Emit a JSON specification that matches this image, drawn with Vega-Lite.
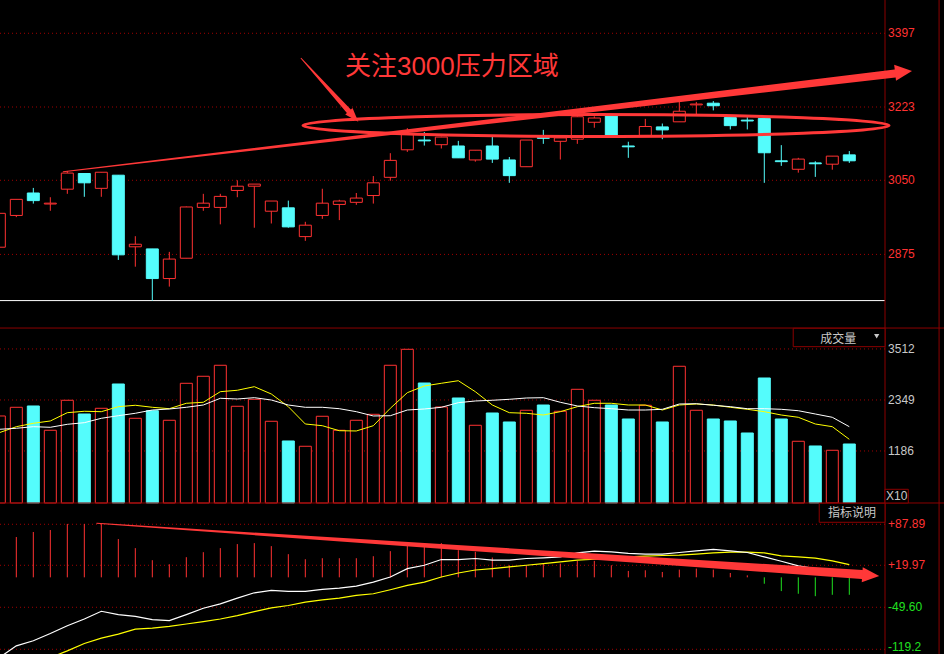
{
"$schema":"https://vega.github.io/schema/vega-lite/v6.json",
"width":944,"height":654,
"autosize":{"type":"none"},
"padding":0,
"background":"#000000",
"config":{"view":{"stroke":null}},
"datasets":{"k":[
{"i":0,"o":2892,"h":2972,"l":2892,"c":2972,"v":1984,"v5":1603,"v10":1680,"dif":-133,"dea":-163,"m":58},
{"i":1,"o":2967,"h":3005,"l":2963,"c":3005,"v":2182,"v5":1740,"v10":1703,"dif":-113.5,"dea":-147,"m":66.8},
{"i":2,"o":3020,"h":3032,"l":2995,"c":3002,"v":2212,"v5":1817,"v10":1740,"dif":-105.1,"dea":-142.6,"m":75.1},
{"i":3,"o":2994,"h":3010,"l":2978,"c":2996,"v":1658,"v5":1870,"v10":1726,"dif":-93,"dea":-133,"m":78.4},
{"i":4,"o":3029,"h":3072,"l":3018,"c":3067,"v":2342,"v5":2059,"v10":1794,"dif":-80.1,"dea":-121.8,"m":88.5},
{"i":5,"o":3066,"h":3067,"l":3011,"c":3044,"v":2029,"v5":2091,"v10":1831,"dif":-69,"dea":-109.6,"m":88.5},
{"i":6,"o":3031,"h":3069,"l":3011,"c":3069,"v":2159,"v5":2082,"v10":1931,"dif":-56.2,"dea":-100.7,"m":88.5},
{"i":7,"o":3062,"h":3062,"l":2862,"c":2874,"v":2713,"v5":2196,"v10":1990,"dif":-61.8,"dea":-94,"m":63.4},
{"i":8,"o":2893,"h":2918,"l":2846,"c":2899,"v":1931,"v5":2228,"v10":2045,"dif":-64.6,"dea":-85.7,"m":48.4},
{"i":9,"o":2888,"h":2888,"l":2766,"c":2818,"v":2104,"v5":2182,"v10":2120,"dif":-70.1,"dea":-84,"m":28.4},
{"i":10,"o":2818,"h":2881,"l":2799,"c":2864,"v":1886,"v5":2150,"v10":2143,"dif":-71.8,"dea":-81.2,"m":21.7},
{"i":11,"o":2866,"h":2988,"l":2866,"c":2987,"v":2729,"v5":2273,"v10":2182,"dif":-61.8,"dea":-77.3,"m":33.4},
{"i":12,"o":2986,"h":3018,"l":2978,"c":2996,"v":2889,"v5":2296,"v10":2234,"dif":-51.2,"dea":-73.4,"m":41.7},
{"i":13,"o":2986,"h":3018,"l":2946,"c":3012,"v":3140,"v5":2538,"v10":2387,"dif":-43.9,"dea":-69,"m":48.4},
{"i":14,"o":3026,"h":3050,"l":3010,"c":3036,"v":2205,"v5":2570,"v10":2371,"dif":-34.5,"dea":-63.4,"m":55.1},
{"i":15,"o":3036,"h":3041,"l":2938,"c":3041,"v":2364,"v5":2652,"v10":2401,"dif":-25.6,"dea":-56.7,"m":56.7},
{"i":16,"o":2977,"h":3001,"l":2948,"c":3001,"v":1863,"v5":2485,"v10":2348,"dif":-21.7,"dea":-50.6,"m":51.7},
{"i":17,"o":2985,"h":3002,"l":2938,"c":2940,"v":1414,"v5":2196,"v10":2234,"dif":-23.4,"dea":-46.7,"m":38.4},
{"i":18,"o":2917,"h":2952,"l":2907,"c":2944,"v":1293,"v5":1801,"v10":2182,"dif":-23.4,"dea":-41.2,"m":30},
{"i":19,"o":2967,"h":3030,"l":2959,"c":2996,"v":1977,"v5":1762,"v10":2182,"dif":-20,"dea":-37.3,"m":31.7},
{"i":20,"o":2993,"h":3004,"l":2956,"c":3001,"v":1658,"v5":1648,"v10":2150,"dif":-17.8,"dea":-34.5,"m":31.7},
{"i":21,"o":2998,"h":3020,"l":2992,"c":3008,"v":1886,"v5":1642,"v10":2082,"dif":-14.5,"dea":-30,"m":31.7},
{"i":22,"o":3014,"h":3060,"l":2995,"c":3044,"v":2022,"v5":1762,"v10":1984,"dif":-7.8,"dea":-27.2,"m":35},
{"i":23,"o":3057,"h":3114,"l":3049,"c":3097,"v":3140,"v5":2159,"v10":1990,"dif":0.5,"dea":-20.5,"m":43.4},
{"i":24,"o":3122,"h":3173,"l":3117,"c":3158,"v":3504,"v5":2515,"v10":2120,"dif":14.5,"dea":-13.4,"m":53.4},
{"i":25,"o":3145,"h":3164,"l":3132,"c":3143,"v":2736,"v5":2668,"v10":2143,"dif":20,"dea":-7.8,"m":56.7},
{"i":26,"o":3134,"h":3153,"l":3125,"c":3152,"v":2189,"v5":2729,"v10":2182,"dif":29.5,"dea":0.5,"m":56.7},
{"i":27,"o":3131,"h":3143,"l":3103,"c":3103,"v":2394,"v5":2788,"v10":2287,"dif":29.5,"dea":7.2,"m":45},
{"i":28,"o":3098,"h":3121,"l":3094,"c":3121,"v":1772,"v5":2538,"v10":2326,"dif":31.2,"dea":12.2,"m":42.3},
{"i":29,"o":3131,"h":3153,"l":3091,"c":3100,"v":2052,"v5":2234,"v10":2342,"dif":28.4,"dea":14.5,"m":32.8},
{"i":30,"o":3098,"h":3105,"l":3044,"c":3061,"v":1847,"v5":2059,"v10":2364,"dif":28.4,"dea":17.2,"m":20},
{"i":31,"o":3082,"h":3145,"l":3082,"c":3145,"v":2114,"v5":2045,"v10":2394,"dif":31.2,"dea":20,"m":20},
{"i":32,"o":3151,"h":3169,"l":3136,"c":3149,"v":2234,"v5":2006,"v10":2401,"dif":32.3,"dea":22.8,"m":22.8},
{"i":33,"o":3142,"h":3150,"l":3099,"c":3150,"v":2091,"v5":2082,"v10":2296,"dif":33.9,"dea":25.6,"m":22.8},
{"i":34,"o":3147,"h":3202,"l":3136,"c":3200,"v":2592,"v5":2196,"v10":2212,"dif":40.6,"dea":28.4,"m":27.3},
{"i":35,"o":3187,"h":3201,"l":3174,"c":3197,"v":2342,"v5":2273,"v10":2173,"dif":43.4,"dea":30,"m":27.3},
{"i":36,"o":3202,"h":3203,"l":3156,"c":3156,"v":2234,"v5":2273,"v10":2150,"dif":42.3,"dea":31.7,"m":20},
{"i":37,"o":3131,"h":3141,"l":3103,"c":3129,"v":1915,"v5":2234,"v10":2120,"dif":39.6,"dea":33.9,"m":10.6},
{"i":38,"o":3156,"h":3195,"l":3156,"c":3177,"v":2228,"v5":2234,"v10":2120,"dif":38.4,"dea":35,"m":11.7},
{"i":39,"o":3176,"h":3184,"l":3147,"c":3169,"v":1847,"v5":2120,"v10":2136,"dif":38.4,"dea":36.2,"m":8.9},
{"i":40,"o":3188,"h":3238,"l":3188,"c":3213,"v":3117,"v5":2234,"v10":2257,"dif":41.2,"dea":36.7,"m":12.8},
{"i":41,"o":3228,"h":3235,"l":3204,"c":3230,"v":2114,"v5":2257,"v10":2264,"dif":43.9,"dea":38.4,"m":14.5},
{"i":42,"o":3232,"h":3237,"l":3215,"c":3226,"v":1915,"v5":2234,"v10":2228,"dif":46.2,"dea":40.6,"m":12.8},
{"i":43,"o":3198,"h":3198,"l":3170,"c":3179,"v":1870,"v5":2182,"v10":2196,"dif":43.9,"dea":41.7,"m":7.2},
{"i":44,"o":3192,"h":3199,"l":3170,"c":3190,"v":1596,"v5":2136,"v10":2150,"dif":41.2,"dea":41.7,"m":3.3},
{"i":45,"o":3196,"h":3197,"l":3044,"c":3115,"v":2850,"v5":2082,"v10":2150,"dif":33.9,"dea":40.6,"m":-10.6},
{"i":46,"o":3096,"h":3133,"l":3084,"c":3094,"v":1915,"v5":2006,"v10":2136,"dif":26.7,"dea":35.6,"m":-22.8},
{"i":47,"o":3076,"h":3103,"l":3068,"c":3100,"v":1407,"v5":1954,"v10":2104,"dif":18.9,"dea":33.9,"m":-27.2},
{"i":48,"o":3091,"h":3095,"l":3058,"c":3089,"v":1300,"v5":1801,"v10":2029,"dif":14.5,"dea":31.7,"m":-31.2},
{"i":49,"o":3088,"h":3107,"l":3075,"c":3107,"v":1202,"v5":1740,"v10":1954,"dif":10.5,"dea":27.3,"m":-28.9},
{"i":50,"o":3110,"h":3119,"l":3091,"c":3096,"v":1345,"v5":1452,"v10":1740,"dif":6.7,"dea":21.2,"m":-28.9}
]},
"layer":[
{"layer":[
 {"data":{"values":[{"y":2875},{"y":3050},{"y":3223},{"y":3397}]},
  "mark":{"type":"rule","color":"#a00000","strokeDash":[1,3],"strokeWidth":1},
  "encoding":{"x":{"datum":0.04,"type":"quantitative","scale":{"domain":[0.04,55.57],"nice":false,"zero":false,"padding":0},"axis":null},"x2":{"datum":52.1},
   "y":{"field":"y","type":"quantitative","scale":{"domain":[1931.7,3475.6],"nice":false,"zero":false},"axis":null}}},
 {"data":{"values":[{"y":2875,"t":"2875"},{"y":3050,"t":"3050"},{"y":3223,"t":"3223"},{"y":3397,"t":"3397"}]},
  "mark":{"type":"text","align":"left","baseline":"middle","font":"Liberation Sans","fontSize":12,"color":"#ff3232"},
  "encoding":{"x":{"datum":52.28,"type":"quantitative","scale":{"domain":[0.04,55.57],"nice":false,"zero":false,"padding":0},"axis":null},
   "y":{"field":"y","type":"quantitative","scale":{"domain":[1931.7,3475.6],"nice":false,"zero":false},"axis":null},"text":{"field":"t"}}},
 {"data":{"values":[{"y":2766}]},
  "mark":{"type":"rule","color":"#ffffff","strokeWidth":1},
  "encoding":{"x":{"datum":0.04,"type":"quantitative","scale":{"domain":[0.04,55.57],"nice":false,"zero":false,"padding":0},"axis":null},"x2":{"datum":52.1},
   "y":{"field":"y","type":"quantitative","scale":{"domain":[1931.7,3475.6],"nice":false,"zero":false},"axis":null}}},
 {"data":{"values":[{"y":2701.2}]},
  "mark":{"type":"rule","color":"#8b0000","strokeWidth":1},
  "encoding":{"y":{"field":"y","type":"quantitative","scale":{"domain":[1931.7,3475.6],"nice":false,"zero":false},"axis":null}}},
 {"data":{"values":[{"xv":52.1},{"xv":55.28}]},
  "mark":{"type":"rule","color":"#8b0000","strokeWidth":1},
  "encoding":{"x":{"field":"xv","type":"quantitative","scale":{"domain":[0.04,55.57],"nice":false,"zero":false,"padding":0},"axis":null}}},
 {"data":{"name":"k"},
  "mark":{"type":"rule","clip":true,"strokeWidth":1},
  "encoding":{"x":{"field":"i","type":"quantitative","scale":{"domain":[0.04,55.57],"nice":false,"zero":false,"padding":0},"axis":null},
   "y":{"field":"l","type":"quantitative","scale":{"domain":[1931.7,3475.6],"nice":false,"zero":false},"axis":null},"y2":{"field":"h"},
   "color":{"condition":{"test":"datum.c >= datum.o","value":"#ff3232"},"value":"#54fcfc"}}},
 {"data":{"name":"k"},
  "mark":{"type":"bar","clip":true,"size":12,"orient":"vertical","strokeWidth":1},
  "encoding":{"x":{"field":"i","type":"quantitative","scale":{"domain":[0.04,55.57],"nice":false,"zero":false,"padding":0},"axis":null},
   "y":{"field":"o","type":"quantitative","scale":{"domain":[1931.7,3475.6],"nice":false,"zero":false},"axis":null},"y2":{"field":"c"},
   "fill":{"condition":{"test":"datum.c >= datum.o","value":"#000000"},"value":"#54fcfc"},
   "stroke":{"condition":{"test":"datum.c >= datum.o","value":"#ff3232"},"value":"#54fcfc"}}},
 {"data":{"values":[{"i":35.1,"p":3179.3}]},
  "mark":{"type":"point","shape":"M-1,0C-1,-0.0207,-0.5523,-0.0375,0,-0.0375C0.5523,-0.0375,1,-0.0207,1,0C1,0.0207,0.5523,0.0375,0,0.0375C-0.5523,0.0375,-1,0.0207,-1,0Z","size":343396,"filled":false,"color":"#ff3838","strokeWidth":3,"opacity":1},
  "encoding":{"x":{"field":"i","type":"quantitative","scale":{"domain":[0.04,55.57],"nice":false,"zero":false,"padding":0},"axis":null},
   "y":{"field":"p","type":"quantitative","scale":{"domain":[1931.7,3475.6],"nice":false,"zero":false},"axis":null}}},
 {"data":{"values":[{"a":"a1","i":17.75,"p":3338,"k":0},{"a":"a1","i":20.56,"p":3213,"k":0.6},{"a":"a2","i":3.76,"p":3070,"k":0},{"a":"a2","i":52.69,"p":3302,"k":1}]},
  "mark":{"type":"trail","color":"#ff3838"},
  "encoding":{"x":{"field":"i","type":"quantitative","scale":{"domain":[0.04,55.57],"nice":false,"zero":false,"padding":0},"axis":null},
   "y":{"field":"p","type":"quantitative","scale":{"domain":[1931.7,3475.6],"nice":false,"zero":false},"axis":null},
   "size":{"field":"k","type":"quantitative","scale":{"domain":[0,1],"range":[1,8]},"legend":null},
   "detail":{"field":"a"}}},
 {"data":{"values":[{"i":53.19,"p":3306}]},
  "mark":{"type":"point","shape":"M-1,-0.94L1,0L-1,0.94Z","size":289,"angle":-6.5,"filled":true,"color":"#ff3838","opacity":1,"strokeWidth":0},
  "encoding":{"x":{"field":"i","type":"quantitative","scale":{"domain":[0.04,55.57],"nice":false,"zero":false,"padding":0},"axis":null},
   "y":{"field":"p","type":"quantitative","scale":{"domain":[1931.7,3475.6],"nice":false,"zero":false},"axis":null}}},
 {"data":{"values":[{"i":20.84,"p":3200.6}]},
  "mark":{"type":"point","shape":"M-1,-0.7L1,0L-1,0.7Z","size":196,"angle":47.9,"filled":true,"color":"#ff3838","opacity":1,"strokeWidth":0},
  "encoding":{"x":{"field":"i","type":"quantitative","scale":{"domain":[0.04,55.57],"nice":false,"zero":false,"padding":0},"axis":null},
   "y":{"field":"p","type":"quantitative","scale":{"domain":[1931.7,3475.6],"nice":false,"zero":false},"axis":null}}},
 {"data":{"values":[{"i":20.33,"p":3318,"t":"关注3000压力区域"}]},
  "mark":{"type":"text","align":"left","baseline":"middle","font":"Liberation Sans, Noto Sans CJK SC","fontSize":26,"color":"#ff3838"},
  "encoding":{"x":{"field":"i","type":"quantitative","scale":{"domain":[0.04,55.57],"nice":false,"zero":false,"padding":0},"axis":null},
   "y":{"field":"p","type":"quantitative","scale":{"domain":[1931.7,3475.6],"nice":false,"zero":false},"axis":null},
   "text":{"field":"t"}}}
]},
{"layer":[
 {"data":{"values":[{"y":1186},{"y":2349},{"y":3512}]},
  "mark":{"type":"rule","color":"#a00000","strokeDash":[1,3],"strokeWidth":1},
  "encoding":{"x":{"datum":0.04,"type":"quantitative","scale":{"domain":[0.04,55.57],"nice":false,"zero":false,"padding":0},"axis":null},"x2":{"datum":52.1},
   "y":{"field":"y","type":"quantitative","scale":{"domain":[-3443,11468],"nice":false,"zero":false},"axis":null}}},
 {"data":{"name":"k"},
  "mark":{"type":"bar","clip":true,"size":12,"orient":"vertical","strokeWidth":1},
  "encoding":{"x":{"field":"i","type":"quantitative","scale":{"domain":[0.04,55.57],"nice":false,"zero":false,"padding":0},"axis":null},
   "y":{"field":"v","type":"quantitative","scale":{"domain":[-3443,11468],"nice":false,"zero":false},"axis":null},"y2":{"datum":0},
   "fill":{"condition":{"test":"datum.c >= datum.o","value":"#000000"},"value":"#54fcfc"},
   "stroke":{"condition":{"test":"datum.c >= datum.o","value":"#ff3232"},"value":"#54fcfc"}}},
 {"data":{"name":"k"},
  "mark":{"type":"line","clip":true,"color":"#ffff00","strokeWidth":1},
  "encoding":{"x":{"field":"i","type":"quantitative","scale":{"domain":[0.04,55.57],"nice":false,"zero":false,"padding":0},"axis":null},
   "y":{"field":"v5","type":"quantitative","scale":{"domain":[-3443,11468],"nice":false,"zero":false},"axis":null}}},
 {"data":{"name":"k"},
  "mark":{"type":"line","clip":true,"color":"#ffffff","strokeWidth":1},
  "encoding":{"x":{"field":"i","type":"quantitative","scale":{"domain":[0.04,55.57],"nice":false,"zero":false,"padding":0},"axis":null},
   "y":{"field":"v10","type":"quantitative","scale":{"domain":[-3443,11468],"nice":false,"zero":false},"axis":null}}},
 {"data":{"values":[{"y":0}]},
  "mark":{"type":"rule","color":"#8b0000","strokeWidth":1},
  "encoding":{"y":{"field":"y","type":"quantitative","scale":{"domain":[-3443,11468],"nice":false,"zero":false},"axis":null}}},
 {"data":{"values":[{"x1":46.7,"x2":52.1,"y1":3983,"y2":3564},{"x1":52.1,"x2":53.47,"y1":312,"y2":0}]},
  "mark":{"type":"rect","fill":"#000000","stroke":"#8b0000","strokeWidth":1},
  "encoding":{"x":{"field":"x1","type":"quantitative","scale":{"domain":[0.04,55.57],"nice":false,"zero":false,"padding":0},"axis":null},"x2":{"field":"x2"},
   "y":{"field":"y1","type":"quantitative","scale":{"domain":[-3443,11468],"nice":false,"zero":false},"axis":null},"y2":{"field":"y2"}}},
 {"data":{"values":[{"y":1186,"t":"1186"},{"y":2349,"t":"2349"},{"y":3512,"t":"3512"}]},
  "mark":{"type":"text","align":"left","baseline":"middle","font":"Liberation Sans","fontSize":12,"color":"#c8c8c8"},
  "encoding":{"x":{"datum":52.28,"type":"quantitative","scale":{"domain":[0.04,55.57],"nice":false,"zero":false,"padding":0},"axis":null},
   "y":{"field":"y","type":"quantitative","scale":{"domain":[-3443,11468],"nice":false,"zero":false},"axis":null},"text":{"field":"t"}}},
 {"data":{"values":[{"i":49.35,"y":3739,"t":"成交量"}]},
  "mark":{"type":"text","align":"center","baseline":"middle","font":"Noto Sans CJK SC","fontSize":12,"color":"#c8c8c8"},
  "encoding":{"x":{"field":"i","type":"quantitative","scale":{"domain":[0.04,55.57],"nice":false,"zero":false,"padding":0},"axis":null},
   "y":{"field":"y","type":"quantitative","scale":{"domain":[-3443,11468],"nice":false,"zero":false},"axis":null},"text":{"field":"t"}}},
 {"data":{"values":[{"i":52.79,"y":160,"t":"X10"}]},
  "mark":{"type":"text","align":"center","baseline":"middle","font":"Liberation Sans","fontSize":12,"color":"#c8c8c8"},
  "encoding":{"x":{"field":"i","type":"quantitative","scale":{"domain":[0.04,55.57],"nice":false,"zero":false,"padding":0},"axis":null},
   "y":{"field":"y","type":"quantitative","scale":{"domain":[-3443,11468],"nice":false,"zero":false},"axis":null},"text":{"field":"t"}}},
 {"data":{"values":[{"i":51.61,"y":3800}]},
  "mark":{"type":"point","shape":"triangle-down","size":28,"filled":true,"color":"#c8c8c8","opacity":1},
  "encoding":{"x":{"field":"i","type":"quantitative","scale":{"domain":[0.04,55.57],"nice":false,"zero":false,"padding":0},"axis":null},
   "y":{"field":"y","type":"quantitative","scale":{"domain":[-3443,11468],"nice":false,"zero":false},"axis":null}}}
]},
{"layer":[
 {"data":{"values":[{"y":87.89},{"y":19.97},{"y":-49.6},{"y":-119.2}]},
  "mark":{"type":"rule","color":"#a00000","strokeDash":[1,3],"strokeWidth":1},
  "encoding":{"x":{"datum":0.04,"type":"quantitative","scale":{"domain":[0.04,55.57],"nice":false,"zero":false,"padding":0},"axis":null},"x2":{"datum":52.1},
   "y":{"field":"y","type":"quantitative","scale":{"domain":[-127,956.5],"nice":false,"zero":false},"axis":null}}},
 {"data":{"name":"k"},
  "mark":{"type":"rule","clip":true,"strokeWidth":1},
  "encoding":{"x":{"field":"i","type":"quantitative","scale":{"domain":[0.04,55.57],"nice":false,"zero":false,"padding":0},"axis":null},
   "y":{"field":"m","type":"quantitative","scale":{"domain":[-127,956.5],"nice":false,"zero":false},"axis":null},"y2":{"datum":0},
   "color":{"condition":{"test":"datum.m > 0","value":"#ff3232"},"value":"#20e020"}}},
 {"data":{"name":"k"},
  "mark":{"type":"line","clip":true,"color":"#ffff00","strokeWidth":1.2},
  "encoding":{"x":{"field":"i","type":"quantitative","scale":{"domain":[0.04,55.57],"nice":false,"zero":false,"padding":0},"axis":null},
   "y":{"field":"dea","type":"quantitative","scale":{"domain":[-127,956.5],"nice":false,"zero":false},"axis":null}}},
 {"data":{"name":"k"},
  "mark":{"type":"line","clip":true,"color":"#ffffff","strokeWidth":1.2},
  "encoding":{"x":{"field":"i","type":"quantitative","scale":{"domain":[0.04,55.57],"nice":false,"zero":false,"padding":0},"axis":null},
   "y":{"field":"dif","type":"quantitative","scale":{"domain":[-127,956.5],"nice":false,"zero":false},"axis":null}}},
 {"data":{"values":[{"a":"a3","i":5.73,"m":89.5,"k":0},{"a":"a3","i":50.75,"m":4.7,"k":1}]},
  "mark":{"type":"trail","color":"#ff3838"},
  "encoding":{"x":{"field":"i","type":"quantitative","scale":{"domain":[0.04,55.57],"nice":false,"zero":false,"padding":0},"axis":null},
   "y":{"field":"m","type":"quantitative","scale":{"domain":[-127,956.5],"nice":false,"zero":false},"axis":null},
   "size":{"field":"k","type":"quantitative","scale":{"domain":[0,1],"range":[1,9]},"legend":null},
   "detail":{"field":"a"}}},
 {"data":{"values":[{"i":51.26,"m":3.4}]},
  "mark":{"type":"point","shape":"M-1,-0.88L1,0L-1,0.88Z","size":289,"angle":4,"filled":true,"color":"#ff3838","opacity":1,"strokeWidth":0},
  "encoding":{"x":{"field":"i","type":"quantitative","scale":{"domain":[0.04,55.57],"nice":false,"zero":false,"padding":0},"axis":null},
   "y":{"field":"m","type":"quantitative","scale":{"domain":[-127,956.5],"nice":false,"zero":false},"axis":null}}},
 {"data":{"values":[{"x1":48.23,"x2":52.1,"y1":122.7,"y2":91.2}]},
  "mark":{"type":"rect","fill":"#000000","stroke":"#8b0000","strokeWidth":1},
  "encoding":{"x":{"field":"x1","type":"quantitative","scale":{"domain":[0.04,55.57],"nice":false,"zero":false,"padding":0},"axis":null},"x2":{"field":"x2"},
   "y":{"field":"y1","type":"quantitative","scale":{"domain":[-127,956.5],"nice":false,"zero":false},"axis":null},"y2":{"field":"y2"}}},
 {"data":{"values":[{"y":87.89,"t":"+87.89"},{"y":19.97,"t":"+19.97"},{"y":-49.6,"t":"-49.60"}]},
  "mark":{"type":"text","align":"left","baseline":"middle","font":"Liberation Sans","fontSize":12},
  "encoding":{"x":{"datum":52.28,"type":"quantitative","scale":{"domain":[0.04,55.57],"nice":false,"zero":false,"padding":0},"axis":null},
   "y":{"field":"y","type":"quantitative","scale":{"domain":[-127,956.5],"nice":false,"zero":false},"axis":null},"text":{"field":"t"},
   "color":{"condition":{"test":"datum.y > 0","value":"#ff3232"},"value":"#20e020"}}},
 {"data":{"values":[{"y":-119.2,"t":"-119.2"}]},
  "mark":{"type":"text","align":"left","baseline":"middle","font":"Liberation Sans","fontSize":12,"dy":-2,"color":"#20e020"},
  "encoding":{"x":{"datum":52.28,"type":"quantitative","scale":{"domain":[0.04,55.57],"nice":false,"zero":false,"padding":0},"axis":null},
   "y":{"field":"y","type":"quantitative","scale":{"domain":[-127,956.5],"nice":false,"zero":false},"axis":null},"text":{"field":"t"}}},
 {"data":{"values":[{"i":50.16,"y":106.1,"t":"指标说明"}]},
  "mark":{"type":"text","align":"center","baseline":"middle","font":"Noto Sans CJK SC","fontSize":12,"color":"#c8c8c8"},
  "encoding":{"x":{"field":"i","type":"quantitative","scale":{"domain":[0.04,55.57],"nice":false,"zero":false,"padding":0},"axis":null},
   "y":{"field":"y","type":"quantitative","scale":{"domain":[-127,956.5],"nice":false,"zero":false},"axis":null},"text":{"field":"t"}}}
]}
],
"resolve":{"scale":{"y":"independent","size":"independent"}}
}
